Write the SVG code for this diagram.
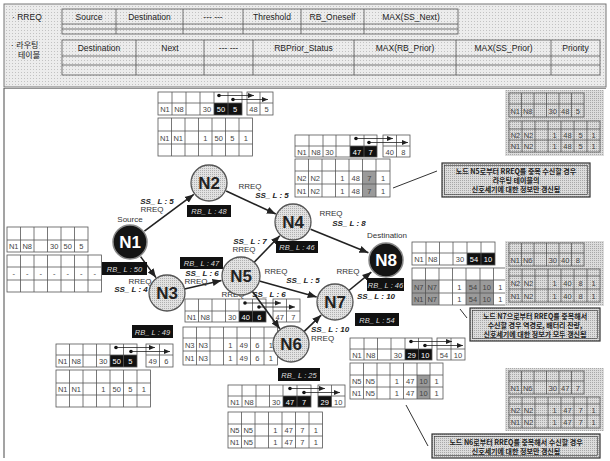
<svg xmlns="http://www.w3.org/2000/svg" width="610" height="461" viewBox="0 0 610 461">
<defs>
<pattern id="pL" width="3" height="3" patternUnits="userSpaceOnUse"><rect width="3" height="3" fill="#ececec"/><rect width="1" height="1" fill="#c2c2c2"/></pattern>
<pattern id="pM" width="2" height="2" patternUnits="userSpaceOnUse"><rect width="2" height="2" fill="#dcdcdc"/><rect width="1" height="1" fill="#a8a8a8"/></pattern>
<pattern id="pN" width="2" height="2" patternUnits="userSpaceOnUse"><rect width="2" height="2" fill="#e2e2e2"/><rect width="1" height="1" fill="#b0b0b0"/></pattern>
<marker id="ah" viewBox="0 0 10 10" refX="10" refY="5" markerWidth="9" markerHeight="9" markerUnits="userSpaceOnUse" orient="auto"><path d="M0 1L10 5L0 9z" fill="#222"/></marker>
<marker id="sa" viewBox="0 0 10 10" refX="10" refY="5" markerWidth="6" markerHeight="6" markerUnits="userSpaceOnUse" orient="auto"><path d="M0 1L10 5L0 9z" fill="#222"/></marker>
</defs>
<style>
.g{fill:none;stroke:#555;stroke-width:0.8}
.c{font-family:"Liberation Sans",Arial,sans-serif;font-size:7.5px;fill:#444;text-anchor:middle}
.w{fill:#fff}
.h{font-family:"Liberation Sans",Arial,sans-serif;font-size:8.5px;fill:#222;text-anchor:middle}
.k{font-family:"Noto Sans CJK KR","Liberation Sans",sans-serif;font-size:7px;font-weight:bold;fill:#222;text-anchor:middle}
.ss{font-family:"Liberation Sans",Arial,sans-serif;font-size:8px;font-weight:bold;font-style:italic;fill:#222;text-anchor:middle}
.rq{font-family:"Liberation Sans",Arial,sans-serif;font-size:8px;fill:#333;text-anchor:middle}
.rb{fill:#111}
.rbt{font-family:"Liberation Sans",Arial,sans-serif;font-size:7.5px;font-style:italic;fill:#ddd;text-anchor:middle}
.blk{fill:#111}
.gry{fill:#9a9a9a}
.cl{fill:url(#pM);stroke:#333;stroke-width:1.2}
.cli{fill:none;stroke:#333;stroke-width:0.6}
.ng{fill:url(#pN);stroke:#555;stroke-width:1.3}
.nb{fill:#141414;stroke:#888;stroke-width:1.5}
.nt{font-family:"Liberation Sans",Arial,sans-serif;font-size:17px;font-weight:bold;text-anchor:middle;fill:#222}
.ntw{fill:#fff}
.e{stroke:#222;stroke-width:1.6;fill:none;marker-end:url(#ah)}
.ta{stroke:#222;stroke-width:0.8;fill:none;marker-end:url(#sa)}
.dt{fill:#111}
.ln{stroke:#333;stroke-width:1;fill:none}
</style>
<rect x="0" y="0" width="610" height="461" fill="#fff"/>
<!-- header band -->
<g id="header">
<rect x="4" y="4" width="602" height="83" fill="url(#pL)" stroke="#777" stroke-width="1"/>
<line x1="4" y1="88.5" x2="606" y2="88.5" stroke="#777" stroke-width="0.8"/>
<text x="12" y="20" class="h" style="text-anchor:start">· RREQ</text>
<rect x="62" y="9" width="396" height="25" class="g"/>
<path class="g" d="M116 9V34M183 9V34M243 9V34M301 9V34M364 9V34M62 24H458M62 29H458"/>
<text x="89" y="20" class="h">Source</text>
<text x="149.5" y="20" class="h">Destination</text>
<text x="213" y="20" class="h">--- ---</text>
<text x="272" y="20" class="h">Threshold</text>
<text x="332.5" y="20" class="h">RB_Oneself</text>
<text x="411" y="20" class="h">MAX(SS_Next)</text>
<text x="10" y="48" class="k" style="text-anchor:start;font-weight:normal;font-size:8px">· 라우팅</text>
<text x="18" y="58" class="k" style="text-anchor:start;font-weight:normal;font-size:8px">테이블</text>
<rect x="62" y="40" width="538" height="35" class="g"/>
<path class="g" d="M136 40V75M204 40V75M253 40V75M354 40V75M456 40V75M551 40V75M62 56H600M62 65H600"/>
<text x="99" y="51" class="h">Destination</text>
<text x="170" y="51" class="h">Next</text>
<text x="228.5" y="51" class="h">--- ---</text>
<text x="303.5" y="51" class="h">RBPrior_Status</text>
<text x="405" y="51" class="h">MAX(RB_Prior)</text>
<text x="503.5" y="51" class="h">MAX(SS_Prior)</text>
<text x="575.5" y="51" class="h">Priority</text>
</g>
<line x1="4" y1="88" x2="4" y2="458" stroke="#666" stroke-width="1.2"/>

<!-- tables -->
<g id="tblA">
<rect x="214" y="103" width="28" height="12" class="blk"/>
<rect x="158" y="92" width="84" height="23" class="g"/>
<path class="g" d="M172 92V115M186 92V115M200 92V115M214 92V115M228 92V115M158 103H242"/>
<rect x="247" y="92" width="26" height="23" class="g"/>
<path class="g" d="M260 92V115M247 103H273"/>
<text class="c" y="112"><tspan x="165">N1</tspan><tspan x="179">N8</tspan><tspan x="207">30</tspan><tspan x="221" class="w">50</tspan><tspan x="235" class="w">5</tspan><tspan x="253.5">48</tspan><tspan x="266.5">5</tspan></text>
<circle cx="219" cy="95.5" r="1.8" class="dt"/><line x1="219" y1="95.5" x2="254" y2="95.5" class="ta"/>
<circle cx="233" cy="99.5" r="1.8" class="dt"/><line x1="233" y1="99.5" x2="268" y2="99.5" class="ta"/>
</g>
<g id="tblB">
<rect x="158" y="118" width="94.5" height="38" class="g"/>
<path class="g" d="M171.5 118V156M185 118V156M198.5 118V156M212 118V156M225.5 118V156M239 118V156M158 131H252.5M158 144H252.5"/>
<text class="c" y="140.5"><tspan x="164.75">N1</tspan><tspan x="178.25">N1</tspan><tspan x="205.25">1</tspan><tspan x="218.75">50</tspan><tspan x="232.25">5</tspan><tspan x="245.75">1</tspan></text>
</g>
<g id="tblC">
<rect x="350" y="146" width="27" height="11" class="blk"/>
<rect x="295" y="135" width="82" height="22" class="g"/>
<path class="g" d="M309 135V157M323 135V157M336 135V157M350 135V157M364 135V157M295 146H377"/>
<rect x="383" y="135" width="27" height="22" class="g"/>
<path class="g" d="M396.5 135V157M383 146H410"/>
<text class="c" y="154.5"><tspan x="302">N1</tspan><tspan x="316">N8</tspan><tspan x="329.5">30</tspan><tspan x="357" class="w">47</tspan><tspan x="370.5" class="w">7</tspan><tspan x="389.75">40</tspan><tspan x="403.25">8</tspan></text>
<circle cx="356" cy="138.5" r="1.8" class="dt"/><line x1="356" y1="138.5" x2="393" y2="138.5" class="ta"/>
<circle cx="369" cy="142.5" r="1.8" class="dt"/><line x1="369" y1="142.5" x2="408" y2="142.5" class="ta"/>
</g>
<g id="tblD">
<rect x="362.5" y="171" width="13.5" height="26" class="gry"/>
<rect x="295" y="159" width="95" height="38" class="g"/>
<path class="g" d="M308.5 159V197M322 159V197M335.5 159V197M349 159V197M362.5 159V197M376 159V197M295 171H390M295 184H390"/>
<text class="c" y="180.5"><tspan x="301.75">N2</tspan><tspan x="315.25">N2</tspan><tspan x="342.25">1</tspan><tspan x="355.75">48</tspan><tspan x="369.25">7</tspan><tspan x="383">1</tspan></text>
<text class="c" y="193.5"><tspan x="301.75">N1</tspan><tspan x="315.25">N2</tspan><tspan x="342.25">1</tspan><tspan x="355.75">48</tspan><tspan x="369.25">7</tspan><tspan x="383">1</tspan></text>
</g>
<g id="tblE">
<rect x="505" y="90" width="99" height="66" fill="url(#pM)"/>
<rect x="509" y="93" width="75" height="24" class="g"/>
<path class="g" d="M521.5 93V117M534 93V117M546.5 93V117M559 93V117M571.5 93V117M509 104H584"/>
<text class="c" y="113.5"><tspan x="515.25">N1</tspan><tspan x="527.75">N8</tspan><tspan x="552.75">30</tspan><tspan x="565.25">48</tspan><tspan x="577.75">5</tspan></text>
<rect x="509" y="121" width="91" height="31" class="g"/>
<path class="g" d="M522 121V152M535 121V152M548 121V152M561 121V152M574 121V152M587 121V152M509 129H600M509 140H600"/>
<text class="c" y="137.5"><tspan x="515.5">N2</tspan><tspan x="528.5">N2</tspan><tspan x="554.5">1</tspan><tspan x="567.5">48</tspan><tspan x="580.5">5</tspan><tspan x="593.5">1</tspan></text>
<text class="c" y="149"><tspan x="515.5">N1</tspan><tspan x="528.5">N2</tspan><tspan x="554.5">1</tspan><tspan x="567.5">48</tspan><tspan x="580.5">5</tspan><tspan x="593.5">1</tspan></text>
</g>
<g id="callout1">
<rect x="442" y="163" width="148" height="34" class="cl"/>
<rect x="444.5" y="165.5" width="143" height="29" class="cli"/>
<text class="k" x="516" y="174">노드 N5로부터 RREQ를 중복 수신할 경우</text>
<text class="k" x="516" y="183">라우팅 테이블의</text>
<text class="k" x="516" y="192">신호세기에 대한 정보만 갱신됨</text>
</g>
<g id="tblF">
<rect x="7" y="227" width="81" height="25" class="g"/>
<path class="g" d="M20.5 227V252M34 227V252M47.5 227V252M61 227V252M74.5 227V252M7 240H88"/>
<text class="c" y="249"><tspan x="13.75">N1</tspan><tspan x="27.25">N8</tspan><tspan x="54.25">30</tspan><tspan x="67.75">50</tspan><tspan x="81.25">5</tspan></text>
</g>
<g id="tblG">
<rect x="7" y="255" width="94.5" height="37" class="g"/>
<path class="g" d="M20.5 255V292M34 255V292M47.5 255V292M61 255V292M74.5 255V292M88 255V292M7 267H101.5M7 280H101.5"/>
<text class="c" y="276"><tspan x="13.75">-</tspan><tspan x="27.25">-</tspan><tspan x="40.75">-</tspan><tspan x="54.25">-</tspan><tspan x="67.75">-</tspan><tspan x="81.25">-</tspan><tspan x="94.75">-</tspan></text>
</g>
<g id="tblH">
<rect x="239" y="311" width="27" height="11" class="blk"/>
<rect x="185" y="299" width="81" height="23" class="g"/>
<path class="g" d="M198.5 299V322M212 299V322M225.5 299V322M239 299V322M252.5 299V322M185 311H266"/>
<rect x="273" y="299" width="27" height="23" class="g"/>
<path class="g" d="M286.5 299V322M273 311H300"/>
<text class="c" y="319.5"><tspan x="191.75">N1</tspan><tspan x="205.25">N8</tspan><tspan x="232.25">30</tspan><tspan x="245.75" class="w">40</tspan><tspan x="259.25" class="w">6</tspan><tspan x="279.75">47</tspan><tspan x="293.25">7</tspan></text>
<circle cx="245" cy="303" r="1.8" class="dt"/><line x1="245" y1="303" x2="281" y2="303" class="ta"/>
<circle cx="259" cy="307" r="1.8" class="dt"/><line x1="259" y1="307" x2="295" y2="307" class="ta"/>
</g>
<g id="tblI">
<rect x="183" y="327" width="94.5" height="38" class="g"/>
<path class="g" d="M196.5 327V365M210 327V365M223.5 327V365M237 327V365M250.5 327V365M264 327V365M183 338H277.5M183 351H277.5"/>
<text class="c" y="347.5"><tspan x="189.75">N3</tspan><tspan x="203.25">N3</tspan><tspan x="230.25">1</tspan><tspan x="243.75">49</tspan><tspan x="257.25">6</tspan><tspan x="270.75">1</tspan></text>
<text class="c" y="361"><tspan x="189.75">N1</tspan><tspan x="203.25">N3</tspan><tspan x="230.25">1</tspan><tspan x="243.75">49</tspan><tspan x="257.25">6</tspan><tspan x="270.75">1</tspan></text>
</g>
<g id="tblJ">
<rect x="110" y="355" width="27" height="12" class="blk"/>
<rect x="56" y="344" width="81" height="23" class="g"/>
<path class="g" d="M69.5 344V367M83 344V367M96.5 344V367M110 344V367M123.5 344V367M56 355H137"/>
<rect x="146" y="344" width="27" height="23" class="g"/>
<path class="g" d="M159.5 344V367M146 355H173"/>
<text class="c" y="364"><tspan x="62.75">N1</tspan><tspan x="76.25">N8</tspan><tspan x="103.25">30</tspan><tspan x="116.75" class="w">50</tspan><tspan x="130.25" class="w">5</tspan><tspan x="152.75">49</tspan><tspan x="166.25">6</tspan></text>
<circle cx="116" cy="347.5" r="1.8" class="dt"/><line x1="116" y1="347.5" x2="155" y2="347.5" class="ta"/>
<circle cx="131" cy="351.5" r="1.8" class="dt"/><line x1="131" y1="351.5" x2="170" y2="351.5" class="ta"/>
</g>
<g id="tblK">
<rect x="56" y="370" width="94.5" height="37" class="g"/>
<path class="g" d="M69.5 370V407M83 370V407M96.5 370V407M110 370V407M123.5 370V407M137 370V407M56 383H150.5M56 395H150.5"/>
<text class="c" y="391.5"><tspan x="62.75">N1</tspan><tspan x="76.25">N1</tspan><tspan x="103.25">1</tspan><tspan x="116.75">50</tspan><tspan x="130.25">5</tspan><tspan x="143.75">1</tspan></text>
</g>
<g id="tblL">
<rect x="283" y="396" width="28" height="11" class="blk"/>
<rect x="318" y="396" width="13.5" height="11" class="blk"/>
<rect x="228" y="385" width="83" height="22" class="g"/>
<path class="g" d="M242 385V407M256 385V407M269.5 385V407M283 385V407M297 385V407M228 396H311"/>
<rect x="318" y="385" width="27" height="22" class="g"/>
<path class="g" d="M331.5 385V407M318 396H345"/>
<text class="c" y="404.5"><tspan x="235">N1</tspan><tspan x="249">N8</tspan><tspan x="276.25">30</tspan><tspan x="290" class="w">47</tspan><tspan x="304" class="w">7</tspan><tspan x="324.75" class="w">29</tspan><tspan x="338.25">10</tspan></text>
<circle cx="290" cy="388.5" r="1.8" class="dt"/><line x1="290" y1="388.5" x2="325" y2="388.5" class="ta"/>
<circle cx="304" cy="392.5" r="1.8" class="dt"/><line x1="304" y1="392.5" x2="340" y2="392.5" class="ta"/>
</g>
<g id="tblM">
<rect x="228" y="412" width="94.5" height="36" class="g"/>
<path class="g" d="M241.5 412V448M255 412V448M268.5 412V448M282 412V448M295.5 412V448M309 412V448M228 424H322.5M228 436H322.5"/>
<text class="c" y="433"><tspan x="234.75">N5</tspan><tspan x="248.25">N5</tspan><tspan x="275.25">1</tspan><tspan x="288.75">47</tspan><tspan x="302.25">7</tspan><tspan x="315.75">1</tspan></text>
<text class="c" y="445"><tspan x="234.75">N1</tspan><tspan x="248.25">N5</tspan><tspan x="275.25">1</tspan><tspan x="288.75">47</tspan><tspan x="302.25">7</tspan><tspan x="315.75">1</tspan></text>
</g>
<g id="tblN">
<rect x="405" y="349" width="27" height="11" class="blk"/>
<rect x="350" y="338" width="82" height="22" class="g"/>
<path class="g" d="M364 338V360M377.5 338V360M391 338V360M405 338V360M418.5 338V360M350 349H432"/>
<rect x="437" y="338" width="28" height="22" class="g"/>
<path class="g" d="M451 338V360M437 349H465"/>
<text class="c" y="357.5"><tspan x="357">N1</tspan><tspan x="370.75">N8</tspan><tspan x="398">30</tspan><tspan x="411.75" class="w">29</tspan><tspan x="425.25" class="w">10</tspan><tspan x="444">54</tspan><tspan x="458">10</tspan></text>
<circle cx="411" cy="341.5" r="1.8" class="dt"/><line x1="411" y1="341.5" x2="452" y2="341.5" class="ta"/>
<circle cx="425" cy="345.5" r="1.8" class="dt"/><line x1="425" y1="345.5" x2="463" y2="345.5" class="ta"/>
</g>
<g id="tblO">
<rect x="417" y="375" width="13" height="24" class="gry"/>
<rect x="350" y="363" width="93" height="36" class="g"/>
<path class="g" d="M363.5 363V399M377 363V399M390 363V399M403.5 363V399M417 363V399M430 363V399M350 375H443M350 387H443"/>
<text class="c" y="384"><tspan x="356.75">N5</tspan><tspan x="370.25">N5</tspan><tspan x="396.75">1</tspan><tspan x="410.25">47</tspan><tspan x="423.5">10</tspan><tspan x="436.5">1</tspan></text>
<text class="c" y="396"><tspan x="356.75">N1</tspan><tspan x="370.25">N5</tspan><tspan x="396.75">1</tspan><tspan x="410.25">47</tspan><tspan x="423.5">10</tspan><tspan x="436.5">1</tspan></text>
</g>
<g id="tblP">
<rect x="505" y="368" width="99" height="63" fill="url(#pM)"/>
<rect x="509" y="371" width="75" height="23" class="g"/>
<path class="g" d="M521.5 371V394M534 371V394M546.5 371V394M559 371V394M571.5 371V394M509 381H584"/>
<text class="c" y="391"><tspan x="515.25">N1</tspan><tspan x="527.75">N6</tspan><tspan x="552.75">30</tspan><tspan x="565.25">47</tspan><tspan x="577.75">7</tspan></text>
<rect x="509" y="397" width="91" height="31" class="g"/>
<path class="g" d="M522 397V428M535 397V428M548 397V428M561 397V428M574 397V428M587 397V428M509 404H600M509 415H600"/>
<text class="c" y="412.5"><tspan x="515.5">N2</tspan><tspan x="528.5">N2</tspan><tspan x="554.5">1</tspan><tspan x="567.5">47</tspan><tspan x="580.5">7</tspan><tspan x="593.5">1</tspan></text>
<text class="c" y="425"><tspan x="515.5">N1</tspan><tspan x="528.5">N2</tspan><tspan x="554.5">1</tspan><tspan x="567.5">47</tspan><tspan x="580.5">7</tspan><tspan x="593.5">1</tspan></text>
</g>
<g id="tblQ">
<rect x="467" y="253" width="28" height="12" class="blk"/>
<rect x="412" y="242" width="83" height="23" class="g"/>
<path class="g" d="M426 242V265M439.5 242V265M453 242V265M467 242V265M481 242V265M412 253H495"/>
<text class="c" y="262"><tspan x="419">N1</tspan><tspan x="432.75">N8</tspan><tspan x="460">30</tspan><tspan x="474" class="w">54</tspan><tspan x="488" class="w">10</tspan></text>
</g>
<g id="tblR">
<rect x="412" y="280" width="27" height="25" class="gry"/>
<rect x="466" y="280" width="27.5" height="25" class="gry"/>
<rect x="412" y="268" width="95" height="37" class="g"/>
<path class="g" d="M425.5 268V305M439 268V305M452.5 268V305M466 268V305M480 268V305M493.5 268V305M412 280H507M412 293H507"/>
<text class="c" y="289.5"><tspan x="418.75">N7</tspan><tspan x="432.25">N7</tspan><tspan x="459.25">1</tspan><tspan x="473">54</tspan><tspan x="486.75">10</tspan><tspan x="500.25">1</tspan></text>
<text class="c" y="302"><tspan x="418.75">N1</tspan><tspan x="432.25">N7</tspan><tspan x="459.25">1</tspan><tspan x="473">54</tspan><tspan x="486.75">10</tspan><tspan x="500.25">1</tspan></text>
</g>
<g id="tblS">
<rect x="505" y="241" width="99" height="65" fill="url(#pM)"/>
<rect x="509" y="243" width="75" height="23" class="g"/>
<path class="g" d="M521.5 243V266M534 243V266M546.5 243V266M559 243V266M571.5 243V266M509 253H584"/>
<text class="c" y="262.5"><tspan x="515.25">N1</tspan><tspan x="527.75">N6</tspan><tspan x="552.75">30</tspan><tspan x="565.25">40</tspan><tspan x="577.75">8</tspan></text>
<rect x="509" y="269" width="91" height="33" class="g"/>
<path class="g" d="M522 269V302M535 269V302M548 269V302M561 269V302M574 269V302M587 269V302M509 276H600M509 289H600"/>
<text class="c" y="285.5"><tspan x="515.5">N2</tspan><tspan x="528.5">N2</tspan><tspan x="554.5">1</tspan><tspan x="567.5">40</tspan><tspan x="580.5">8</tspan><tspan x="593.5">1</tspan></text>
<text class="c" y="298.5"><tspan x="515.5">N1</tspan><tspan x="528.5">N2</tspan><tspan x="554.5">1</tspan><tspan x="567.5">40</tspan><tspan x="580.5">8</tspan><tspan x="593.5">1</tspan></text>
</g>
<g id="callout2">
<rect x="470" y="308" width="130" height="33" class="cl"/>
<rect x="472.5" y="310.5" width="125" height="28" class="cli"/>
<text class="k" x="535" y="319">노드 N7으로부터 RREQ를 중복해서</text>
<text class="k" x="535" y="328">수신할 경우 역경로, 배터리 잔량,</text>
<text class="k" x="535" y="337">신호세기에 대한 정보가 모두 갱신됨</text>
</g>
<g id="callout3">
<rect x="432" y="434" width="168" height="24" class="cl"/>
<rect x="434.5" y="436.5" width="163" height="19" class="cli"/>
<text class="k" x="516" y="444.5">노드 N6로부터 RREQ를 중복해서 수신할 경우</text>
<text class="k" x="516" y="453.5">신호세기에 대한 정보만 갱신됨</text>
</g>

<!-- connectors -->
<g id="connectors">
<line class="e" x1="144.4" y1="231.2" x2="193.8" y2="194.4"/>
<line class="e" x1="226.2" y1="191" x2="275.8" y2="214"/>
<line class="e" x1="140.6" y1="256.6" x2="156" y2="277.6"/>
<line class="e" x1="184.5" y1="289" x2="221.5" y2="280.5"/>
<line class="e" x1="253.5" y1="263" x2="279.8" y2="235.7"/>
<line class="e" x1="310.6" y1="229.2" x2="368.4" y2="252.8"/>
<line class="e" x1="259.3" y1="281" x2="316.7" y2="296.9"/>
<line class="e" x1="251.7" y1="290.5" x2="279.8" y2="328.7"/>
<line class="e" x1="304" y1="331.6" x2="321.2" y2="315.1"/>
<line class="e" x1="348.9" y1="290.5" x2="371.3" y2="272.1"/>
<line class="ln" x1="393" y1="188" x2="437" y2="171"/>
<line class="ln" x1="460" y1="309" x2="467" y2="318"/>
<line class="ln" x1="406" y1="405" x2="428" y2="446"/>
</g>

<!-- edge labels -->
<g id="labels">
<text class="ss" x="157" y="204">SS_ L : 5</text><text class="rq" x="152" y="212">RREQ</text>
<text class="rq" x="250" y="189">RREQ</text><text class="ss" x="272" y="198">SS_ L : 5</text>
<text class="rq" x="140" y="284">RREQ</text><text class="ss" x="131" y="292">SS_ L : 4</text>
<text class="ss" x="202" y="276">SS_ L : 6</text><text class="rq" x="196" y="283.5">RREQ</text>
<text class="ss" x="250" y="244">SS_ L : 7</text><text class="rq" x="244" y="252">RREQ</text>
<text class="rq" x="276" y="274">RREQ</text><text class="ss" x="303" y="283">SS_ L : 5</text>
<text class="rq" x="233" y="297">RREQ</text><text class="ss" x="269" y="297">SS_ L : 6</text>
<text class="rq" x="331" y="216">RREQ</text><text class="ss" x="349" y="226">SS_ L : 8</text>
<text class="rq" x="348" y="274">RREQ</text><text class="ss" x="376" y="299">SS_ L : 10</text>
<text class="ss" x="311" y="332" style="text-anchor:start">SS_ L : 10</text><text class="rq" x="311" y="341" style="text-anchor:start">RREQ</text>
<text class="rq" x="130" y="222">Source</text>
<text class="rq" x="387" y="238">Destination</text>
</g>

<!-- RB boxes -->
<g id="rb">
<rect x="187" y="205" width="44" height="12" class="rb"/><text class="rbt" x="209" y="214">RB_ L : 48</text>
<rect x="102" y="262" width="45" height="13" class="rb"/><text class="rbt" x="124.5" y="271.5">RB_ L : 50</text>
<rect x="180" y="257" width="43" height="12" class="rb"/><text class="rbt" x="201.5" y="266">RB_ L : 47</text>
<rect x="276" y="241" width="42" height="12" class="rb"/><text class="rbt" x="297" y="250">RB_ L : 46</text>
<rect x="132" y="325" width="41" height="13" class="rb"/><text class="rbt" x="152.5" y="334.5">RB_ L : 49</text>
<rect x="367" y="278" width="37" height="13" class="rb"/><text class="rbt" x="385.5" y="287.5">RB_ L : 46</text>
<rect x="355" y="313" width="44" height="13" class="rb"/><text class="rbt" x="377" y="322.5">RB_ L : 54</text>
<rect x="278" y="368" width="42" height="13" class="rb"/><text class="rbt" x="299" y="377.5">RB_ L : 25</text>
</g>

<!-- nodes -->
<g id="N1"><circle cx="130" cy="242" r="17" class="nb"/><text class="nt ntw" x="130" y="248">N1</text></g>
<g id="N2"><circle cx="209" cy="183" r="18" class="ng"/><text class="nt" x="209" y="189">N2</text></g>
<g id="N3"><circle cx="167" cy="293" r="18" class="ng"/><text class="nt" x="167" y="299">N3</text></g>
<g id="N4"><circle cx="293" cy="222" r="18" class="ng"/><text class="nt" x="293" y="228">N4</text></g>
<g id="N5"><circle cx="241" cy="276" r="19" class="ng"/><text class="nt" x="241" y="282">N5</text></g>
<g id="N6"><circle cx="291" cy="344" r="18" class="ng"/><text class="nt" x="291" y="350">N6</text></g>
<g id="N7"><circle cx="335" cy="302" r="18" class="ng"/><text class="nt" x="335" y="308">N7</text></g>
<g id="N8"><circle cx="386" cy="260" r="17" class="nb"/><text class="nt ntw" x="386" y="266">N8</text></g>
</svg>
